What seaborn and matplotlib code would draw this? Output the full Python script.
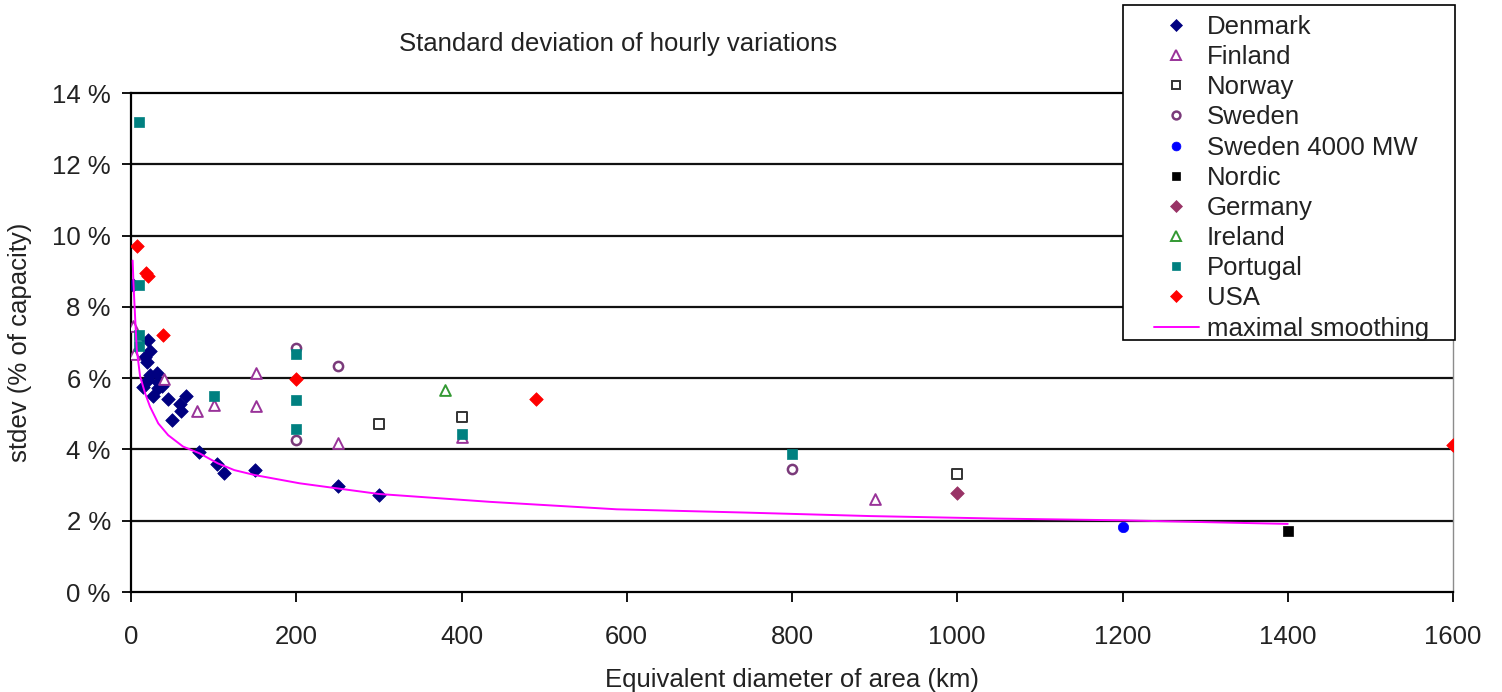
import matplotlib
matplotlib.use("Agg")
import matplotlib.pyplot as plt
from matplotlib.lines import Line2D
from matplotlib.patches import Rectangle
from matplotlib.legend_handler import HandlerLine2D
from matplotlib.ticker import FuncFormatter, MultipleLocator
import seaborn as sns

sns.set_style("white")
plt.rcParams["font.family"] = ["Liberation Sans", "DejaVu Sans"]

# Equivalent diameter (km) and stdev of hourly variations (% of capacity)
denmark_x = [2, 20, 23, 17, 19, 23, 31, 21, 33, 37, 15, 33, 27, 45, 67, 59, 60, 50,
             82, 104, 112, 150, 250, 300]
denmark_y = [8.6, 7.08, 6.77, 6.58, 6.45, 6.1, 6.14, 5.95, 5.9, 5.78, 5.74, 5.71, 5.5,
             5.41, 5.5, 5.27, 5.07, 4.82, 3.93, 3.59, 3.34, 3.43, 2.96, 2.72]

finland_x = [2, 4, 40, 80, 101, 151, 151, 250, 400, 900]
finland_y = [7.45, 6.68, 5.98, 5.07, 5.25, 6.15, 5.23, 4.17, 4.35, 2.6]

norway_x = [300, 400, 1000]
norway_y = [4.7, 4.9, 3.32]

sweden_x = [200, 250, 200, 800]
sweden_y = [6.85, 6.33, 4.27, 3.45]

sweden4000_x = [1200]
sweden4000_y = [1.83]

nordic_x = [1400]
nordic_y = [1.72]

germany_x = [1000]
germany_y = [2.77]

ireland_x = [380]
ireland_y = [5.68]

portugal_x = [10, 10, 10, 10, 100, 200, 200, 200, 400, 800]
portugal_y = [13.2, 8.6, 7.22, 6.89, 5.49, 6.68, 5.39, 4.57, 4.42, 3.87]

usa_x = [7, 18, 21, 39, 200, 490, 1600]
usa_y = [9.72, 8.95, 8.87, 7.22, 5.98, 5.42, 4.12]

smooth_x = [2, 3, 5, 7, 11, 17, 23, 33, 45, 63, 83, 105, 125, 150, 204, 300, 434,
            588, 741, 895, 1049, 1202, 1400]
smooth_y = [9.3, 8.65, 7.7, 6.8, 6.05, 5.58, 5.2, 4.73, 4.4, 4.08, 3.89, 3.61, 3.42,
            3.28, 3.05, 2.75, 2.53, 2.32, 2.23, 2.13, 2.06, 2.01, 1.91]

series = [
    ("Denmark", denmark_x, denmark_y, dict(marker="D", s=48, fc="#000080", ec="#000080", lw=0.5)),
    ("Finland", finland_x, finland_y, dict(marker="^", s=60, fc="white", ec="#993399", lw=1.4)),
    ("Norway", norway_x, norway_y, dict(marker="s", s=56, fc="white", ec="#333333", lw=1.4)),
    ("Sweden", sweden_x, sweden_y, dict(marker="o", s=44, fc="white", ec="#7a3a7a", lw=1.8)),
    ("Sweden 4000 MW", sweden4000_x, sweden4000_y, dict(marker="o", s=56, fc="#0000FF", ec="#0000FF", lw=0.5)),
    ("Nordic", nordic_x, nordic_y, dict(marker="s", s=58, fc="black", ec="black", lw=0.5)),
    ("Germany", germany_x, germany_y, dict(marker="D", s=48, fc="#993366", ec="#993366", lw=0.5)),
    ("Ireland", ireland_x, ireland_y, dict(marker="^", s=60, fc="white", ec="#339933", lw=1.4)),
    ("Portugal", portugal_x, portugal_y, dict(marker="s", s=58, fc="#008080", ec="#008080", lw=0.5)),
    ("USA", usa_x, usa_y, dict(marker="D", s=48, fc="#FF0000", ec="#FF0000", lw=0.5)),
]

W, H = 1502, 692
fig = plt.figure(figsize=(W / 100, H / 100), dpi=100)
ax = fig.add_axes([131 / W, 1 - 592 / H, 1322 / W, 499 / H])

FS = 18.5

for name, xs, ys, st in series:
    sns.scatterplot(x=xs, y=ys, ax=ax, marker=st["marker"], s=st["s"],
                    color=st["ec"], facecolor=st["fc"], edgecolor=st["ec"],
                    linewidth=st["lw"], zorder=3, legend=False)

sns.lineplot(x=smooth_x, y=smooth_y, ax=ax, color="#FF00FF", linewidth=1.4,
             estimator=None, zorder=4, legend=False)

ax.set_xlim(0, 1600)
ax.set_ylim(0, 14)
ax.xaxis.set_major_locator(MultipleLocator(200))
ax.yaxis.set_major_locator(MultipleLocator(2))
ax.yaxis.set_major_formatter(FuncFormatter(lambda v, p: f"{v:.0f} %"))

ax.grid(False)
for yv in range(2, 14, 2):
    ax.axhline(yv, color="#111111", linewidth=1.6, zorder=1)

for side in ("left", "bottom", "top"):
    ax.spines[side].set_color("black")
    ax.spines[side].set_linewidth(1.6)
ax.spines["right"].set_color("#8c8c8c")
ax.spines["right"].set_linewidth(1.0)

ax.tick_params(axis="both", labelsize=FS, colors="black", direction="out")
ax.tick_params(axis="y", left=True, length=6.5, width=1.3, pad=8)
ax.tick_params(axis="x", bottom=True, length=7, width=1.3, pad=17)
for lab in ax.get_xticklabels() + ax.get_yticklabels():
    lab.set_color("#222222")

ax.set_xlabel("Equivalent diameter of area (km)", fontsize=FS, color="#222222")
ax.xaxis.set_label_coords(0.5, -0.152)
ax.set_ylabel("stdev (% of capacity)", fontsize=FS, color="#222222")
ax.yaxis.set_label_coords(-0.075, 0.5)

ax.text((618 - 131) / 1322, (592 - 44) / 499, "Standard deviation of hourly variations",
        transform=ax.transAxes, ha="center", va="center", fontsize=FS, color="#222222")


class ShiftedHandler(HandlerLine2D):
    def get_xdata(self, legend, xdescent, ydescent, width, height, fontsize):
        x0 = -xdescent + 0.35 * width
        x1 = -xdescent + width
        return [x0, x1], [0.5 * (x0 + x1)]


handles = []
labels = []
for name, xs, ys, st in series:
    handles.append(Line2D([], [], linestyle="none", marker=st["marker"],
                          markersize=st["s"] ** 0.5 * 0.85, markerfacecolor=st["fc"],
                          markeredgecolor=st["ec"], markeredgewidth=st["lw"]))
    labels.append(name)
handles.append(Line2D([], [], color="#FF00FF", linewidth=1.4))
labels.append("maximal smoothing")

# Legend box outline
frame = Rectangle((1123 / W, 1 - 340 / H), 332 / W, 335 / H, transform=fig.transFigure,
                  facecolor="white", edgecolor="black", linewidth=1.2, zorder=4.9)
fig.patches.append(frame)

leg = fig.legend(handles, labels, loc="upper left",
                 bbox_to_anchor=(1126 / W, 1 - 11 / H), bbox_transform=fig.transFigure,
                 frameon=False, fontsize=FS, borderpad=0.15, labelspacing=0.24,
                 handlelength=2.68, handletextpad=0.31, borderaxespad=0, numpoints=1,
                 handler_map={Line2D: ShiftedHandler()})
for t in leg.get_texts():
    t.set_color("#222222")

fig.savefig("out.png", dpi=100)
